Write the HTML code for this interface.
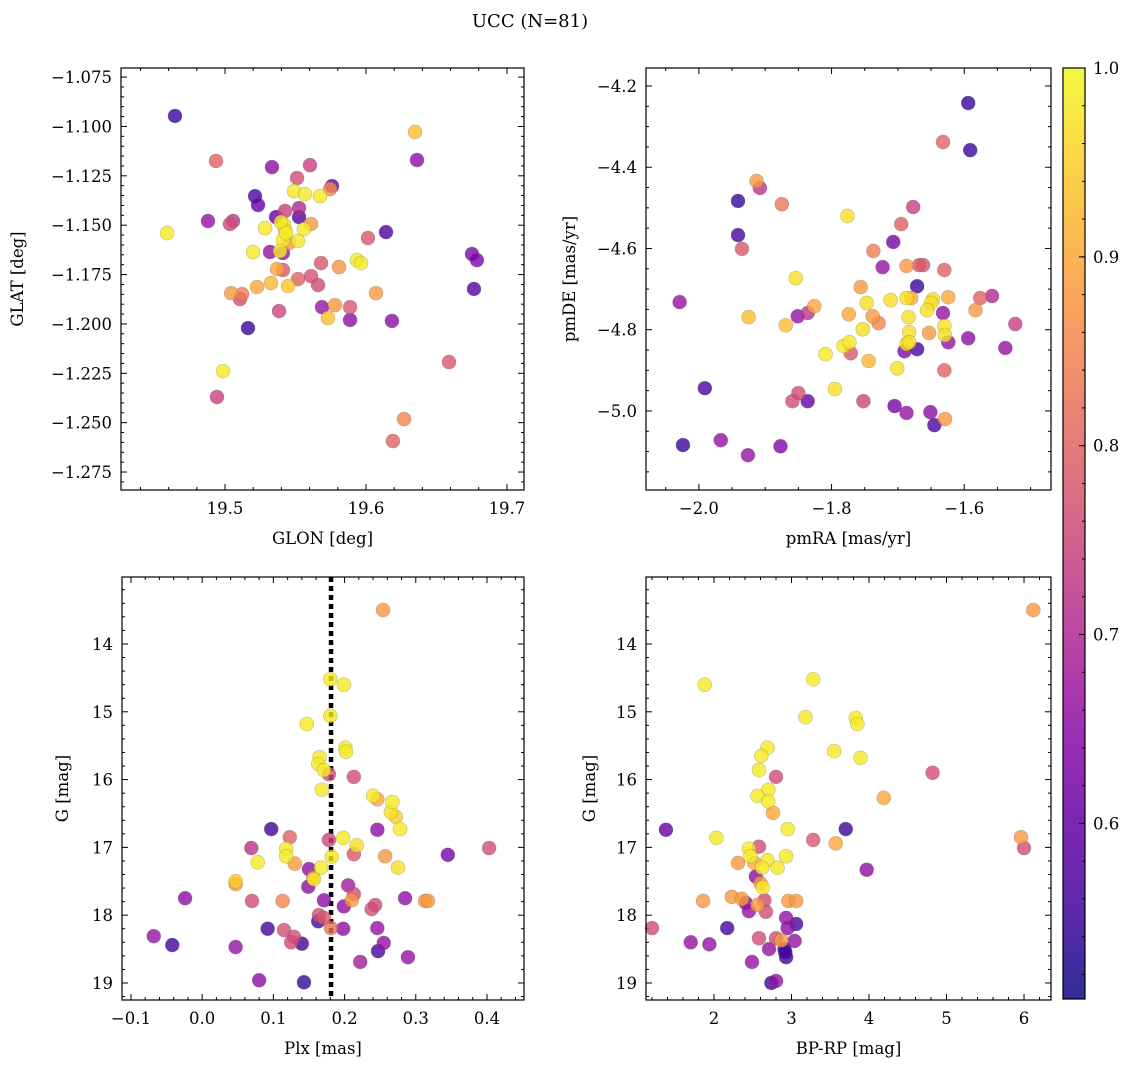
<!DOCTYPE html>
<html><head><meta charset="utf-8"><title>UCC (N=81)</title>
<style>
html,body{margin:0;padding:0;background:#fff;}
svg{display:block;font-family:"DejaVu Serif","Liberation Serif",serif;}
</style></head>
<body>
<svg id="fig" width="1136" height="1067" viewBox="0 0 1136 1067" xmlns="http://www.w3.org/2000/svg">
<text x="530" y="27" font-size="18" text-anchor="middle">UCC (N=81)</text>
</svg>
<script>
// ---- Panel 1 data: GLON / GLAT / probability
const glon = [19.4645,19.4936,19.4589,19.4879,19.5035,19.5057,19.5213,19.5234,19.5333,19.5603,19.5511,19.5489,19.5567,19.5674,19.5759,19.5745,19.5362,19.5426,19.5525,19.5525,19.5610,19.5284,19.5418,19.5426,19.5560,19.5411,19.5518,19.5454,19.5319,19.5411,19.5390,19.5199,19.5369,19.5411,19.5681,19.5809,19.5936,19.5965,19.6014,19.6142,19.5043,19.5121,19.5106,19.5227,19.5326,19.5447,19.5518,19.5610,19.5660,19.6071,19.5383,19.5688,19.5780,19.5887,19.5730,19.5887,19.6184,19.5163,19.6348,19.6362,19.6752,19.6787,19.6766,19.6589,19.6270,19.6191,19.4986,19.4943,19.5397,19.5433];
const glat = [-1.0947,-1.1175,-1.1540,-1.1479,-1.1494,-1.1479,-1.1353,-1.1398,-1.1206,-1.1196,-1.1261,-1.1327,-1.1342,-1.1353,-1.1302,-1.1317,-1.1459,-1.1428,-1.1413,-1.1459,-1.1494,-1.1515,-1.1499,-1.1525,-1.1520,-1.1575,-1.1580,-1.1590,-1.1636,-1.1641,-1.1631,-1.1636,-1.1722,-1.1727,-1.1692,-1.1712,-1.1677,-1.1692,-1.1565,-1.1535,-1.1844,-1.1849,-1.1874,-1.1813,-1.1793,-1.1808,-1.1773,-1.1758,-1.1803,-1.1844,-1.1935,-1.1915,-1.1905,-1.1915,-1.1970,-1.1980,-1.1985,-1.2021,-1.1028,-1.1170,-1.1646,-1.1677,-1.1823,-1.2193,-1.2482,-1.2593,-1.2239,-1.2370,-1.1484,-1.1540];
const prob1 = [.55,.8,.98,.66,.76,.72,.57,.6,.65,.74,.76,.98,.98,.98,.6,.86,.6,.74,.7,.58,.88,.98,.98,.98,.98,.98,.98,.88,.66,.66,.98,.98,.9,.78,.78,.87,.98,.98,.78,.57,.88,.84,.76,.9,.92,.94,.8,.77,.76,.88,.75,.66,.88,.78,.93,.65,.65,.55,.93,.65,.63,.63,.58,.78,.85,.8,.98,.74,.98,.98];

// ---- Panel 2 data: pmRA / pmDE / probability
const pmra = [-1.594,-1.632,-1.591,-1.913,-1.908,-1.941,-1.875,-1.776,-1.941,-1.935,-1.854,-2.029,-1.925,-1.869,-1.851,-1.836,-1.826,-1.774,-1.809,-1.782,-1.773,-1.771,-1.991,-1.795,-1.850,-1.859,-1.836,-2.024,-1.967,-1.926,-1.877,-1.677,-1.695,-1.707,-1.737,-1.723,-1.687,-1.668,-1.662,-1.630,-1.671,-1.756,-1.747,-1.711,-1.687,-1.680,-1.647,-1.650,-1.656,-1.624,-1.576,-1.558,-1.583,-1.632,-1.738,-1.729,-1.753,-1.684,-1.683,-1.653,-1.630,-1.629,-1.624,-1.594,-1.523,-1.538,-1.687,-1.683,-1.690,-1.671,-1.744,-1.701,-1.630,-1.752,-1.705,-1.687,-1.651,-1.645,-1.629];
const pmde = [-4.242,-4.338,-4.358,-4.434,-4.451,-4.483,-4.491,-4.520,-4.567,-4.601,-4.673,-4.732,-4.769,-4.789,-4.767,-4.759,-4.742,-4.762,-4.860,-4.840,-4.831,-4.858,-4.944,-4.946,-4.956,-4.976,-4.976,-5.084,-5.072,-5.109,-5.087,-4.498,-4.540,-4.584,-4.606,-4.646,-4.643,-4.641,-4.641,-4.653,-4.693,-4.695,-4.734,-4.727,-4.722,-4.722,-4.725,-4.734,-4.752,-4.720,-4.722,-4.717,-4.752,-4.759,-4.767,-4.784,-4.799,-4.769,-4.806,-4.808,-4.791,-4.813,-4.831,-4.821,-4.786,-4.845,-4.835,-4.831,-4.853,-4.848,-4.877,-4.895,-4.900,-4.976,-4.988,-5.005,-5.003,-5.035,-5.020];
const prob2 = [.55,.8,.55,.88,.72,.55,.83,.97,.56,.78,.97,.66,.93,.93,.66,.72,.9,.9,.98,.98,.98,.78,.57,.97,.76,.76,.6,.55,.66,.66,.63,.74,.79,.62,.84,.66,.88,.78,.78,.8,.55,.88,.97,.97,.97,.9,.97,.97,.97,.9,.8,.7,.88,.66,.88,.85,.97,.97,.97,.88,.97,.97,.66,.65,.74,.66,.97,.97,.63,.57,.92,.97,.8,.75,.62,.66,.65,.57,.88];

// ---- Panel 3 data: Plx / G / probability
const plx = [0.254,0.180,0.199,0.180,0.147,0.165,0.163,0.201,0.202,0.171,0.178,0.213,0.168,0.240,0.246,0.267,0.265,0.272,0.278,0.246,0.097,0.123,0.178,0.198,0.118,0.069,0.213,0.217,0.118,0.182,0.257,0.345,0.403,0.078,0.130,0.150,0.167,0.275,0.156,0.149,0.157,0.047,0.047,0.205,0.213,0.285,0.313,0.317,-0.024,0.070,0.113,0.171,0.210,0.199,0.238,0.243,0.164,0.171,0.163,0.181,0.198,0.115,0.092,0.246,0.129,0.125,0.140,-0.068,-0.042,0.047,0.255,0.247,0.222,0.289,0.143,0.080];
const gmag3 = [13.50,14.52,14.60,15.06,15.18,15.67,15.77,15.53,15.59,15.86,15.92,15.96,16.15,16.24,16.29,16.33,16.48,16.55,16.73,16.74,16.73,16.85,16.89,16.86,17.02,17.01,17.10,16.97,17.13,17.14,17.13,17.11,17.01,17.22,17.24,17.32,17.30,17.30,17.45,17.58,17.47,17.50,17.54,17.56,17.69,17.75,17.79,17.79,17.75,17.79,17.79,17.78,17.78,17.87,17.91,17.85,18.00,18.04,18.09,18.19,18.20,18.22,18.20,18.19,18.32,18.40,18.42,18.31,18.44,18.47,18.41,18.53,18.69,18.62,18.99,18.96];
const prob3 = [.88,.98,.98,.98,.98,.98,.98,.98,.98,.98,.76,.76,.98,.98,.9,.98,.97,.95,.98,.65,.55,.8,.75,.98,.98,.72,.78,.97,.98,.98,.88,.62,.76,.98,.88,.65,.98,.97,.88,.65,.98,.95,.88,.68,.76,.65,.88,.88,.65,.76,.85,.65,.88,.65,.76,.76,.76,.78,.56,.82,.65,.76,.56,.66,.76,.76,.56,.66,.56,.66,.66,.56,.68,.66,.55,.65];

// ---- Panel 4 data: BP-RP / G / probability
const bprp = [6.12,3.28,1.88,3.18,3.83,3.85,3.55,3.89,2.69,2.61,2.58,2.80,4.82,2.70,2.56,2.70,4.19,2.76,2.95,1.38,3.70,3.28,2.03,5.96,6.00,3.57,2.45,2.58,2.47,2.93,2.69,2.52,2.31,2.82,2.62,3.97,2.54,2.60,2.63,2.23,2.36,1.86,2.41,2.65,2.56,2.96,3.06,2.45,2.67,2.93,2.17,2.95,3.06,1.20,1.70,1.94,2.58,2.87,2.80,3.04,2.71,2.91,2.93,2.92,2.49,2.80,2.74];
const gmag4 = [13.50,14.52,14.60,15.08,15.09,15.18,15.58,15.68,15.53,15.65,15.86,15.96,15.90,16.15,16.24,16.32,16.27,16.49,16.73,16.74,16.73,16.89,16.86,16.85,17.01,16.94,17.02,16.99,17.13,17.13,17.19,17.23,17.23,17.30,17.30,17.33,17.43,17.53,17.59,17.73,17.76,17.79,17.82,17.78,17.85,17.79,17.79,17.94,17.95,18.04,18.19,18.19,18.13,18.19,18.40,18.43,18.34,18.37,18.34,18.38,18.50,18.50,18.62,18.55,18.69,18.97,19.00];
const prob4 = [.88,.98,.98,.98,.98,.98,.98,.98,.98,.98,.98,.76,.76,.98,.98,.98,.9,.9,.98,.6,.55,.78,.98,.88,.76,.9,.98,.76,.98,.98,.98,.9,.88,.98,.98,.65,.65,.88,.98,.88,.88,.88,.65,.76,.88,.88,.88,.66,.76,.66,.56,.65,.56,.76,.66,.66,.76,.88,.76,.66,.66,.55,.55,.56,.66,.66,.55];

// ---- Colorbar ticks
const cbTicks = [0.6,0.7,0.8,0.9,1.0];
const cbMin = 0.507, cbMax = 1.0;

const NS = "http://www.w3.org/2000/svg";
const svg = document.getElementById('fig');
function mk(tag, attrs, parent){const e=document.createElementNS(NS,tag);for(const k in attrs)e.setAttribute(k,attrs[k]);(parent||svg).appendChild(e);return e;}

const plasmaStops = [[13,8,135],[65,4,157],[106,0,168],[143,13,164],[177,42,144],[204,71,120],[225,100,98],[242,132,75],[252,166,54],[252,206,37],[240,249,33]];
function plasma(t){t=Math.max(0,Math.min(1,t));const s=t*10,i=Math.min(9,Math.floor(s)),f=s-i;const a=plasmaStops[i],b=plasmaStops[i+1];return 'rgb('+a.map((v,k)=>Math.round(v+(b[k]-v)*f)).join(',')+')';}
function pcolor(p){return plasma((p-cbMin)/(cbMax-cbMin));}
function fmt(v,d){const s=Math.abs(v).toFixed(d);return (v< -1e-9?'\u2212':'')+s;}
const FS = 16.5;

function panel(cfg){
  const g=mk('g',{});
  
  
  const sx=v=>cfg.px[0]+(v-cfg.xd[0])/(cfg.xd[1]-cfg.xd[0])*(cfg.px[1]-cfg.px[0]);
  const sy=v=>cfg.py[0]+(v-cfg.yd[0])/(cfg.yd[1]-cfg.yd[0])*(cfg.py[1]-cfg.py[0]);
  const [x0,x1]=cfg.px,[y0,y1]=cfg.py;
  const tg=mk('g',{stroke:'#000','stroke-width':1},g);
  const xlo=Math.min(...cfg.xd),xhi=Math.max(...cfg.xd),ylo=Math.min(...cfg.yd),yhi=Math.max(...cfg.yd);
  for(let k=Math.ceil(xlo/cfg.xmin-1e-6);k*cfg.xmin<=xhi+1e-9;k++){
    const v=k*cfg.xmin,X=sx(v);const major=Math.abs(v/cfg.xmaj-Math.round(v/cfg.xmaj))<1e-6;const L=major?6:3;
    mk('line',{x1:X,x2:X,y1:y1,y2:y1-L},tg);mk('line',{x1:X,x2:X,y1:y0,y2:y0+L},tg);
    if(major){const t=mk('text',{x:X,y:y1+24,'font-size':FS,'text-anchor':'middle'},g);t.textContent=fmt(v,cfg.xdec);
      }
  }
  for(let k=Math.ceil(ylo/cfg.ymin-1e-6);k*cfg.ymin<=yhi+1e-9;k++){
    const v=k*cfg.ymin,Y=sy(v);const major=Math.abs(v/cfg.ymaj-Math.round(v/cfg.ymaj))<1e-6;const L=major?6:3;
    mk('line',{x1:x0,x2:x0+L,y1:Y,y2:Y},tg);mk('line',{x1:x1,x2:x1-L,y1:Y,y2:Y},tg);
    if(major){const t=mk('text',{x:x0-9,y:Y+6,'font-size':FS,'text-anchor':'end'},g);t.textContent=fmt(v,cfg.ydec);
      }
  }
  if(cfg.vline!==undefined){
    const l=mk('line',{x1:sx(cfg.vline),x2:sx(cfg.vline),y1:y0,y2:y1,stroke:'#000','stroke-width':4.5,'stroke-dasharray':'5,4'},g);
    
  }
  const idx=cfg.xs.map((_,i)=>i).filter(i=>cfg.ys[i]!==undefined&&cfg.ps[i]!==undefined).sort((a,b)=>cfg.ps[a]-cfg.ps[b]);
  const pg=mk('g',{},g);
  for(const i of idx){
    const c=mk('circle',{cx:sx(cfg.xs[i]),cy:sy(cfg.ys[i]),r:7,fill:pcolor(cfg.ps[i]),'fill-opacity':0.8,stroke:'#555','stroke-opacity':0.35,'stroke-width':0.6},pg);
    
    
  }
  const fr=mk('rect',{x:x0,y:y0,width:x1-x0,height:y1-y0,fill:'none',stroke:'#000','stroke-width':1.2},g);
  
  const xl=mk('text',{x:(x0+x1)/2,y:y1+54,'font-size':FS,'text-anchor':'middle'},g);xl.textContent=cfg.xlabel;
  
  const yl=mk('text',{x:cfg.ylx,y:(y0+y1)/2,'font-size':FS,'text-anchor':'middle',transform:'rotate(-90 '+cfg.ylx+' '+(y0+y1)/2+')'},g);yl.textContent=cfg.ylabel;
  
}

panel({name:'glon-glat-panel',xs:glon,ys:glat,ps:prob1,px:[121,524],py:[68,490],xd:[19.4262,19.7121],yd:[-1.0704,-1.2841],
  xmaj:0.1,xmin:0.02,ymaj:0.025,ymin:0.005,xdec:1,ydec:3,xlabel:'GLON [deg]',ylabel:'GLAT [deg]',ylx:23});
panel({name:'pm-panel',xs:pmra,ys:pmde,ps:prob2,px:[646,1051],py:[68,490],xd:[-2.0797,-1.4692],yd:[-4.1557,-5.1946],
  xmaj:0.2,xmin:0.05,ymaj:0.2,ymin:0.05,xdec:1,ydec:1,xlabel:'pmRA [mas/yr]',ylabel:'pmDE [mas/yr]',ylx:575});
panel({name:'plx-g-panel',xs:plx,ys:gmag3,ps:prob3,px:[122,524],py:[577,1000],xd:[-0.1126,0.452],yd:[13.012,19.251],
  xmaj:0.1,xmin:0.02,ymaj:1,ymin:0.2,xdec:1,ydec:0,xlabel:'Plx [mas]',ylabel:'G [mag]',ylx:68,vline:0.181});
panel({name:'cmd-panel',xs:bprp,ys:gmag4,ps:prob4,px:[646,1051],py:[577,1000],xd:[1.1226,6.348],yd:[13.012,19.251],
  xmaj:1,xmin:0.2,ymaj:1,ymin:0.2,xdec:0,ydec:0,xlabel:'BP-RP [mag]',ylabel:'G [mag]',ylx:595});

(function(){
  const cx0=1063,cx1=1085,cy0=68,cy1=999;
  const g=mk('g',{});
  
  
  const defs=mk('defs',{},g);
  const lg=mk('linearGradient',{id:'cbg',x1:0,y1:1,x2:0,y2:0},defs);
  for(let k=0;k<=20;k++){mk('stop',{offset:k/20,'stop-color':plasma(k/20),'stop-opacity':0.85},lg);}
  mk('rect',{x:cx0,y:cy0,width:cx1-cx0,height:cy1-cy0,fill:'url(#cbg)'},g);
  const sy=v=>cy1-(v-cbMin)/(cbMax-cbMin)*(cy1-cy0);
  for(let k=Math.ceil(cbMin/0.02);k*0.02<=cbMax+1e-9;k++){
    const Y=sy(k*0.02);mk('line',{x1:cx1,x2:cx1-3,y1:Y,y2:Y,stroke:'#000','stroke-width':1},g);
  }
  for(const v of cbTicks){
    const Y=sy(v);mk('line',{x1:cx1,x2:cx1-6,y1:Y,y2:Y,stroke:'#000','stroke-width':1},g);
    const t=mk('text',{x:cx1+8,y:Y+6,'font-size':FS},g);t.textContent=v.toFixed(1);
    
  }
  mk('rect',{x:cx0,y:cy0,width:cx1-cx0,height:cy1-cy0,fill:'none',stroke:'#000','stroke-width':1.2},g);
})();
</script>
</body></html>
